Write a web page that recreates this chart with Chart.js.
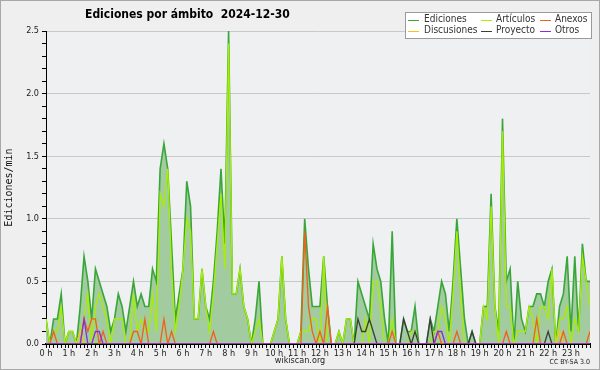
<!DOCTYPE html>
<html>
<head>
<meta charset="utf-8">
<title>Ediciones por ámbito 2024-12-30</title>
<script src="https://cdn.jsdelivr.net/npm/chart.js@4.4.1/dist/chart.umd.min.js"></script>
<style>
    html, body { margin: 0; padding: 0; background: #efefef; }
    canvas { display: block; }
</style>
</head>
<body>
<canvas id="chart" width="600" height="370"></canvas>
<script>
var chartTitle = 'Ediciones por ámbito  2024-12-30';

// One tick label per hour, the data has one value every 10 minutes.
var hourLabels = ['0 h', '1 h', '2 h', '3 h', '4 h', '5 h', '6 h', '7 h', '8 h', '9 h', '10 h', '11 h',
    '12 h', '13 h', '14 h', '15 h', '16 h', '17 h', '18 h', '19 h', '20 h', '21 h', '22 h', '23 h'];

var seriesNames = ['Ediciones', 'Artículos', 'Anexos', 'Discusiones', 'Proyecto', 'Otros'];

// Edits per minute, 10 minute bins, 12 values per row (2 hours).
var ediciones = [
    0.2, 0, 0.2, 0.2, 0.4, 0, 0.1, 0.1, 0, 0.3, 0.7, 0.5,
    0.2, 0.6, 0.5, 0.4, 0.3, 0.1, 0.2, 0.4, 0.3, 0.1, 0.3, 0.5,
    0.3, 0.4, 0.3, 0.3, 0.6, 0.5, 1.4, 1.6, 1.4, 0.8, 0.2, 0.4,
    0.6, 1.3, 1.1, 0.2, 0.2, 0.6, 0.3, 0.2, 0.5, 0.9, 1.4, 0.8,
    2.5, 0.4, 0.4, 0.6, 0.3, 0.2, 0, 0.2, 0.5, 0, 0, 0,
    0.1, 0.2, 0.7, 0.2, 0, 0, 0, 0.1, 1.0, 0.6, 0.3, 0.3,
    0.3, 0.7, 0.3, 0, 0, 0.1, 0, 0.2, 0.2, 0, 0.5, 0.4,
    0.3, 0.2, 0.8, 0.6, 0.5, 0.2, 0, 0.9, 0, 0, 0.2, 0.1,
    0.1, 0.3, 0, 0, 0, 0.2, 0.1, 0.3, 0.5, 0.4, 0.1, 0.5,
    1.0, 0.6, 0.2, 0, 0.1, 0, 0, 0.3, 0.3, 1.2, 0.3, 0.1,
    1.8, 0.5, 0.6, 0, 0.5, 0.2, 0.1, 0.3, 0.3, 0.4, 0.4, 0.3,
    0.5, 0.6, 0, 0.3, 0.4, 0.7, 0.1, 0.7, 0.1, 0.8, 0.5, 0.5
];

var articulos = [
    0.2, 0, 0.1, 0.1, 0.3, 0, 0.1, 0.1, 0, 0.1, 0.2, 0.4,
    0, 0.3, 0.4, 0.3, 0.2, 0, 0.2, 0.2, 0.2, 0, 0, 0.4,
    0.1, 0.2, 0.1, 0.1, 0.4, 0.1, 1.2, 1.1, 1.4, 0.6, 0.1, 0.3,
    0.6, 1.0, 0.9, 0.2, 0.2, 0.6, 0.3, 0.1, 0.4, 0.8, 1.2, 0.6,
    2.4, 0.4, 0.4, 0.6, 0.3, 0.2, 0, 0.1, 0.2, 0, 0, 0,
    0.1, 0.2, 0.7, 0.2, 0, 0, 0, 0.1, 0.1, 0.1, 0.2, 0.2,
    0, 0.7, 0, 0, 0, 0.1, 0, 0.2, 0.2, 0, 0, 0,
    0.2, 0, 0.5, 0.5, 0.3, 0, 0, 0.2, 0, 0, 0, 0,
    0.1, 0.1, 0, 0, 0, 0, 0.1, 0.1, 0.3, 0.2, 0, 0.4,
    0.9, 0.4, 0, 0, 0, 0, 0, 0.3, 0.2, 1.1, 0.3, 0,
    1.7, 0.3, 0.3, 0, 0.1, 0.1, 0.1, 0.3, 0.2, 0, 0.3, 0.3,
    0.2, 0.6, 0, 0.2, 0.2, 0.3, 0, 0.2, 0.1, 0.7, 0.5, 0.3
];

var anexos = [
    0, 0, 0.1, 0, 0, 0, 0, 0, 0, 0, 0.2, 0.1,
    0.2, 0.2, 0, 0.1, 0, 0, 0, 0, 0, 0, 0, 0.1,
    0.1, 0, 0.2, 0, 0, 0, 0, 0.2, 0, 0.1, 0, 0,
    0, 0, 0, 0, 0, 0, 0, 0, 0.1, 0, 0, 0,
    0, 0, 0, 0, 0, 0, 0, 0, 0, 0, 0, 0,
    0, 0, 0, 0, 0, 0, 0, 0, 0.9, 0.3, 0.1, 0,
    0.1, 0, 0.3, 0, 0, 0, 0, 0, 0, 0, 0, 0,
    0, 0, 0, 0, 0, 0, 0, 0.1, 0, 0, 0, 0,
    0, 0, 0, 0, 0, 0, 0, 0.1, 0, 0, 0, 0,
    0.1, 0, 0, 0, 0, 0, 0, 0, 0, 0, 0, 0,
    0, 0.1, 0, 0, 0, 0, 0, 0, 0, 0.2, 0, 0,
    0, 0, 0, 0, 0.1, 0, 0, 0, 0, 0, 0, 0.1
];

var discusiones = [
    0, 0, 0, 0, 0, 0, 0, 0, 0, 0.1, 0, 0,
    0, 0, 0, 0, 0, 0, 0, 0, 0, 0, 0, 0,
    0, 0, 0, 0, 0, 0, 0, 0, 0, 0, 0, 0,
    0, 0, 0, 0, 0, 0, 0, 0, 0, 0, 0, 0,
    0, 0, 0, 0, 0, 0, 0, 0, 0, 0, 0, 0,
    0, 0, 0, 0, 0, 0, 0, 0, 0, 0, 0, 0,
    0, 0, 0, 0, 0, 0, 0, 0, 0, 0, 0, 0,
    0, 0, 0, 0, 0, 0, 0, 0, 0, 0, 0, 0,
    0, 0, 0, 0, 0, 0, 0, 0, 0, 0, 0, 0,
    0, 0, 0, 0, 0, 0, 0, 0, 0, 0, 0, 0,
    0, 0, 0, 0, 0, 0, 0, 0, 0, 0, 0, 0,
    0, 0, 0, 0.1, 0, 0, 0, 0, 0, 0, 0, 0
];

var proyecto = [
    0, 0, 0, 0, 0, 0, 0, 0, 0, 0, 0, 0,
    0, 0, 0, 0, 0, 0, 0, 0, 0, 0, 0, 0,
    0, 0, 0, 0, 0, 0, 0, 0, 0, 0, 0, 0,
    0, 0, 0, 0, 0, 0, 0, 0, 0, 0, 0, 0,
    0, 0, 0, 0, 0, 0, 0, 0, 0, 0, 0, 0,
    0, 0, 0, 0, 0, 0, 0, 0, 0, 0, 0, 0,
    0, 0, 0, 0, 0, 0, 0, 0, 0, 0, 0.2, 0.1,
    0.1, 0.2, 0.1, 0, 0, 0, 0, 0, 0, 0, 0.2, 0.1,
    0, 0.1, 0, 0, 0, 0.2, 0, 0, 0, 0, 0, 0,
    0, 0, 0, 0, 0.1, 0, 0, 0, 0, 0, 0, 0,
    0, 0, 0, 0, 0, 0, 0, 0, 0, 0, 0, 0,
    0.1, 0, 0, 0, 0, 0, 0, 0, 0, 0, 0, 0
];

var otros = [
    0, 0, 0, 0, 0, 0, 0, 0, 0, 0, 0.2, 0,
    0, 0.1, 0.1, 0, 0, 0, 0, 0, 0, 0, 0, 0,
    0, 0, 0, 0, 0, 0, 0, 0, 0, 0, 0, 0,
    0, 0, 0, 0, 0, 0, 0, 0, 0, 0, 0, 0,
    0, 0, 0, 0, 0, 0, 0, 0, 0, 0, 0, 0,
    0, 0, 0, 0, 0, 0, 0, 0, 0, 0, 0, 0,
    0, 0, 0, 0, 0, 0, 0, 0, 0, 0, 0, 0,
    0, 0, 0, 0, 0, 0, 0, 0, 0, 0, 0, 0,
    0, 0, 0, 0, 0, 0, 0, 0.1, 0.1, 0, 0, 0,
    0, 0, 0, 0, 0, 0, 0, 0, 0, 0, 0, 0,
    0, 0, 0, 0, 0, 0, 0, 0, 0, 0, 0, 0,
    0, 0, 0, 0, 0, 0, 0, 0, 0, 0, 0, 0
];

var condensed = '"DejaVu Sans Condensed", "DejaVu Sans", sans-serif';

/**
 * Turn a list of values into x/y points, x being the bin number.
 */
function toPoints(values) {
    return values.map(function (value, index) {
        return {x: index, y: value};
    });
}

function lineDataset(label, values, color, order) {
    return {
        label: label,
        data: toPoints(values),
        borderColor: color,
        backgroundColor: color,
        borderWidth: 1.3,
        pointRadius: 0,
        tension: 0,
        fill: false,
        order: order
    };
}

/**
 * Background, title, legend box and credits.
 */
var framePlugin = {
    id: 'frame',
    beforeDraw: function (chart) {
        var ctx = chart.ctx;
        var area = chart.chartArea;
        ctx.save();
        ctx.fillStyle = '#efefef';
        ctx.fillRect(0, 0, chart.width, chart.height);
        ctx.fillStyle = '#eef0f2';
        ctx.fillRect(area.left, area.top, area.right - area.left, area.bottom - area.top);
        ctx.restore();
    },
    afterDraw: function (chart) {
        var ctx = chart.ctx;
        ctx.save();

        // Title.
        ctx.fillStyle = '#000';
        ctx.textBaseline = 'middle';
        ctx.font = 'bold 12px ' + condensed;
        ctx.fillText(chartTitle, 85, 15);

        // Legend box, two rows of three entries.
        ctx.fillStyle = '#ffffff';
        ctx.fillRect(405.5, 12.5, 186, 26);
        ctx.strokeStyle = '#9a9a9a';
        ctx.lineWidth = 1;
        ctx.strokeRect(405.5, 12.5, 186, 26);

        var markerX = [408, 481, 540];
        var textX = [424, 496, 555];
        var rowY = [19.5, 30.5];
        ctx.font = '10px ' + condensed;
        chart.data.datasets.forEach(function (dataset, index) {
            var col = index % 3;
            var row = Math.floor(index / 3);
            var y = rowY[row];
            ctx.strokeStyle = dataset.borderColor;
            ctx.beginPath();
            ctx.moveTo(markerX[col], Math.round(y) + 0.5);
            ctx.lineTo(markerX[col] + 11, Math.round(y) + 0.5);
            ctx.stroke();
            ctx.fillStyle = '#333';
            ctx.fillText(dataset.label, textX[col], y);
        });

        // Credits.
        ctx.fillStyle = '#222';
        ctx.textAlign = 'center';
        ctx.font = '9px ' + condensed;
        ctx.fillText('wikiscan.org', 300, 361);
        ctx.textAlign = 'right';
        ctx.font = '7px ' + condensed;
        ctx.fillText('CC BY-SA 3.0', 590, 362);

        // Outer border.
        ctx.strokeStyle = '#a8a8a8';
        ctx.strokeRect(0.5, 0.5, chart.width - 1, chart.height - 1);
        ctx.restore();
    }
};

var totalDataset = lineDataset(seriesNames[0], ediciones, '#38a638', 10);
totalDataset.fill = 'origin';
totalDataset.backgroundColor = '#a2cb9f';
totalDataset.borderWidth = 1.6;

var chart = new Chart(document.getElementById('chart'), {
    type: 'line',
    data: {
        datasets: [
            totalDataset,
            lineDataset(seriesNames[1], articulos, '#a8ee00', 6),
            lineDataset(seriesNames[2], anexos, '#f0601a', 2),
            lineDataset(seriesNames[3], discusiones, '#f5c518', 4),
            lineDataset(seriesNames[4], proyecto, '#3c3c3c', 3),
            lineDataset(seriesNames[5], otros, '#8a2be2', 1)
        ]
    },
    options: {
        responsive: false,
        animation: false,
        devicePixelRatio: 1,
        layout: {
            padding: {top: 31, right: 10, bottom: 0, left: 0}
        },
        plugins: {
            legend: {display: false},
            title: {display: false},
            tooltip: {enabled: false}
        },
        scales: {
            x: {
                type: 'linear',
                min: 0,
                max: 143,
                z: 1,
                afterFit: function (scale) {
                    scale.height = 26;
                },
                ticks: {
                    stepSize: 1,
                    autoSkip: false,
                    maxRotation: 0,
                    padding: 0,
                    color: '#222',
                    font: {family: condensed, size: 9},
                    callback: function (value) {
                        return value % 6 === 0 ? hourLabels[value / 6] : '';
                    }
                },
                grid: {
                    drawOnChartArea: false,
                    tickLength: 4,
                    tickColor: '#000'
                },
                border: {color: '#000', width: 2}
            },
            y: {
                min: 0,
                max: 2.5,
                afterFit: function (scale) {
                    scale.width = 46;
                },
                ticks: {
                    stepSize: 0.1,
                    autoSkip: false,
                    padding: 3,
                    color: '#222',
                    font: {family: condensed, size: 9},
                    callback: function (value) {
                        var tenths = Math.round(value * 10);
                        return tenths % 5 === 0 ? (tenths / 10).toFixed(1) : '';
                    }
                },
                grid: {
                    color: function (context) {
                        var tenths = Math.round(context.tick.value * 10);
                        return tenths % 5 === 0 ? '#c8c8c8' : 'rgba(0,0,0,0)';
                    },
                    tickColor: '#000',
                    tickLength: 4
                },
                border: {color: '#000', width: 1},
                title: {
                    display: true,
                    text: 'Ediciones/min',
                    color: '#111',
                    font: {family: '"DejaVu Sans Mono", monospace', size: 10},
                    padding: {top: 3, bottom: 0}
                }
            }
        }
    },
    plugins: [framePlugin]
});
</script>
</body>
</html>
